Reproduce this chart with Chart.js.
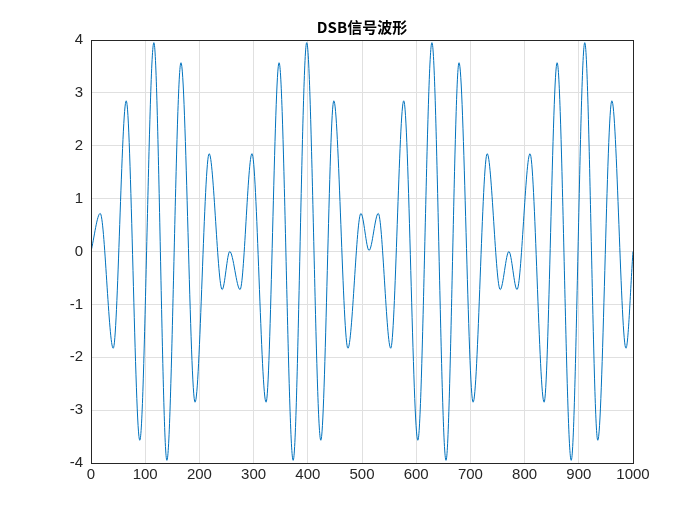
<!DOCTYPE html>
<html><head><meta charset="utf-8">
<script src="https://cdn.jsdelivr.net/npm/chart.js"></script>
<style>html,body{margin:0;padding:0;background:#fff}#w{width:700px;height:525px}</style>
</head><body><div id="w"><canvas id="c"></canvas></div>
<script>
const titleText = "DSB信号波形";
const extremaX = [0,17,41,65,90,116,140,166,192,218,242,256,275,297,323,347,373,398,424,448,474,498,513,530,553,577,603,629,655,679,705,731,755,771,786,810,836,860,886,911,935,961,987,1000];
const extremaY = [0,0.72,-1.83,2.85,-3.57,3.95,-3.95,3.57,-2.85,1.85,-0.72,0,-0.72,1.85,-2.85,3.57,-3.95,3.95,-3.57,2.85,-1.83,0.72,0.02,0.72,-1.83,2.85,-3.57,3.95,-3.95,3.57,-2.85,1.85,-0.72,0,-0.72,1.85,-2.85,3.57,-3.95,3.95,-3.57,2.85,-1.83,0];
const pts = extremaX.map((x,i)=>({x, y: extremaY[i]}));
const boxPlugin = {id:'box', afterDraw(ch){const a=ch.chartArea,c=ch.ctx;c.save();c.strokeStyle='#262626';c.lineWidth=1;c.strokeRect(Math.round(a.left)+0.5,Math.round(a.top)+0.5,Math.round(a.right-a.left),Math.round(a.bottom-a.top));
c.fillStyle='#000';c.font='bold 15px "Noto Sans CJK SC", Arial, sans-serif';c.textAlign='center';c.textBaseline='bottom';c.fillText(titleText,(a.left+a.right)/2,a.top-5);c.restore();}};
new Chart(document.getElementById('c'),{
 type:'line',
 data:{datasets:[{data:pts,borderColor:'#0072BD',borderWidth:1,pointRadius:0,cubicInterpolationMode:'monotone',fill:false}]},
 options:{responsive:true,maintainAspectRatio:false,animation:false,
  layout:{padding:{top:40,right:67,left:0,bottom:0}},
  plugins:{legend:{display:false},tooltip:{enabled:false}},
  scales:{
   x:{type:'linear',min:0,max:1000,ticks:{stepSize:100,color:'#262626',font:{size:15,family:'Arial, Liberation Sans'},maxRotation:0,callback:v=>String(v)},
      grid:{color:'#e0e0e0',drawTicks:false},border:{color:'#262626'},afterFit(s){s.height=62;}},
   y:{min:-4,max:4,ticks:{stepSize:1,color:'#262626',font:{size:15,family:'Arial, Liberation Sans'},padding:8,callback:v=>String(v)},
      grid:{color:'#e0e0e0',drawTicks:false},border:{color:'#262626'},afterFit(s){s.width=91;}}
  }},
 plugins:[boxPlugin]
});
</script></body></html>
